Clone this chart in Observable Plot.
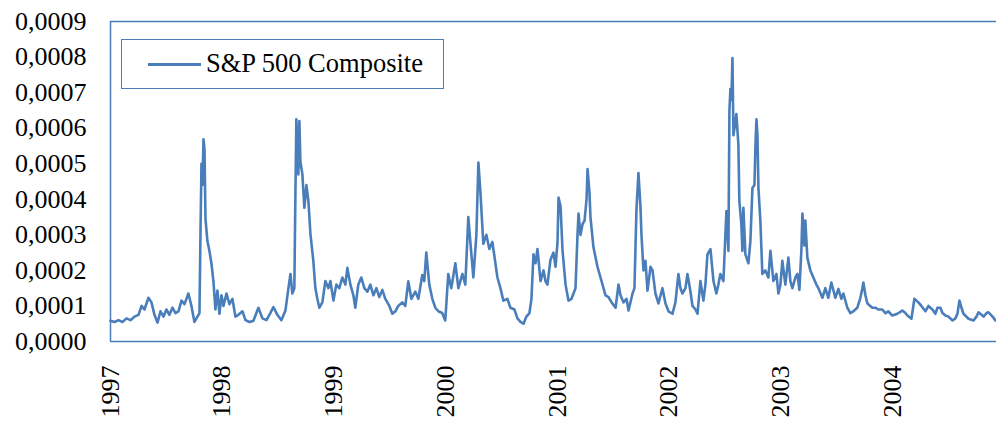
<!DOCTYPE html>
<html>
<head>
<meta charset="utf-8">
<script src="https://cdn.jsdelivr.net/npm/d3@7"></script>
<script src="https://cdn.jsdelivr.net/npm/@observablehq/plot@0.6"></script>
<style>
  html, body { margin: 0; padding: 0; background: #fff; }
  #wrap { position: relative; width: 996px; height: 423px; overflow: hidden; font-family: 'Liberation Serif', 'Times New Roman', serif; }
  #legend { position: absolute; left: 121px; top: 39px; width: 323px; height: 50px; box-sizing: border-box; border: 1.5px solid #4a7ebb; background: #fff; }
  #legend .swatch { position: absolute; left: 26px; top: 23px; width: 53px; height: 2.5px; background: #4a7ebb; }
  #legend .label { position: absolute; left: 84px; top: 0; height: 47px; line-height: 47px; font-size: 26.5px; color: #000; white-space: nowrap; }
</style>
</head>
<body>
<div id="wrap"></div>
<script>
// ---- data ----
const seriesName = "S&P 500 Composite";
const unit = 1e-4; // values below are in units of 0.0001
const yearTicks = [1997, 1998, 1999, 2000, 2001, 2002, 2003, 2004];
const yTicks = [0, 0.0001, 0.0002, 0.0003, 0.0004, 0.0005, 0.0006, 0.0007, 0.0008, 0.0009];

const t1997 = [1997.000,1997.036,1997.072,1997.107,1997.143,1997.179,1997.215,1997.251,1997.278,1997.304,1997.340,1997.367,1997.394,1997.421,1997.448,1997.475,1997.501,1997.528,1997.555,1997.582,1997.609,1997.636,1997.663,1997.698,1997.725,1997.752,1997.779,1997.797,1997.806,1997.815,1997.824,1997.833,1997.842,1997.851,1997.868,1997.886,1997.904,1997.922,1997.940,1997.958,1997.976,1997.994];
const v1997 = [0.58,0.55,0.60,0.55,0.65,0.60,0.70,0.75,1.00,0.90,1.23,1.10,0.75,0.53,0.85,0.70,0.90,0.75,0.95,0.80,0.85,1.15,1.05,1.35,1.00,0.55,0.70,0.80,3.00,5.00,4.40,5.69,5.40,3.45,2.83,2.55,2.20,1.70,0.90,1.43,0.78,1.30];

const t1998 = [1998.012,1998.039,1998.065,1998.092,1998.119,1998.146,1998.182,1998.209,1998.244,1998.280,1998.325,1998.361,1998.397,1998.432,1998.459,1998.495,1998.531,1998.567,1998.594,1998.612,1998.629,1998.647,1998.656,1998.665,1998.683,1998.692,1998.701,1998.719,1998.737,1998.755,1998.773,1998.791,1998.817,1998.835,1998.853,1998.871,1998.898,1998.925,1998.952,1998.970,1998.997];
const v1998 = [1.00,1.35,1.05,1.20,0.70,0.75,0.85,0.60,0.55,0.58,0.95,0.65,0.60,0.80,0.97,0.75,0.60,0.87,1.50,1.90,1.35,1.50,4.00,6.25,4.70,6.20,5.07,4.70,3.76,4.40,3.95,3.03,2.27,1.51,1.20,0.95,1.10,1.70,1.50,1.70,1.15];

const t1999 = [1999.023,1999.050,1999.077,1999.104,1999.122,1999.149,1999.176,1999.193,1999.220,1999.247,1999.274,1999.301,1999.328,1999.355,1999.382,1999.408,1999.435,1999.462,1999.498,1999.525,1999.552,1999.578,1999.614,1999.641,1999.668,1999.695,1999.731,1999.758,1999.793,1999.811,1999.829,1999.856,1999.883,1999.910,1999.937,1999.972,1999.999];
const v1999 = [1.60,1.50,1.80,1.60,2.07,1.60,1.30,0.95,1.60,1.80,1.50,1.40,1.60,1.30,1.50,1.25,1.45,1.20,1.00,0.78,0.85,1.00,1.10,1.00,1.69,1.20,1.40,1.20,1.87,1.70,2.50,1.60,1.20,0.95,0.85,0.80,0.59];

const t2000 = [2000.026,2000.053,2000.089,2000.116,2000.152,2000.178,2000.205,2000.223,2000.250,2000.277,2000.295,2000.313,2000.339,2000.366,2000.393,2000.420,2000.447,2000.465,2000.492,2000.518,2000.554,2000.581,2000.617,2000.644,2000.671,2000.698,2000.724,2000.751,2000.769,2000.787,2000.805,2000.823,2000.850,2000.877,2000.894,2000.912,2000.939,2000.966,2000.984];
const v2000 = [1.90,1.50,2.20,1.50,1.90,1.60,3.50,2.80,1.80,3.00,5.03,4.20,2.75,3.00,2.60,2.80,2.20,1.80,1.50,1.15,1.20,0.95,0.90,0.65,0.55,0.50,0.70,0.80,1.20,2.45,2.20,2.60,1.70,2.00,1.70,1.60,2.30,2.50,2.10];

const t2001 = [2001.002,2001.011,2001.029,2001.047,2001.074,2001.100,2001.127,2001.163,2001.181,2001.190,2001.208,2001.226,2001.244,2001.262,2001.271,2001.288,2001.297,2001.324,2001.360,2001.387,2001.405,2001.432,2001.459,2001.486,2001.522,2001.548,2001.566,2001.593,2001.620,2001.638,2001.674,2001.691,2001.709,2001.727,2001.745,2001.754,2001.772,2001.790,2001.808,2001.835,2001.853,2001.879,2001.906,2001.942,2001.969,2001.996];
const v2001 = [2.80,4.05,3.80,2.55,1.60,1.15,1.20,1.50,3.00,3.60,3.00,3.30,3.40,4.00,4.85,4.20,3.50,2.65,2.10,1.80,1.60,1.30,1.25,1.10,0.95,1.60,1.30,1.10,1.20,0.87,1.35,1.50,3.70,4.74,3.80,3.00,2.00,2.27,1.43,2.10,2.00,1.35,1.07,1.50,1.07,0.85];

const t2002 = [2002.032,2002.058,2002.085,2002.103,2002.121,2002.148,2002.166,2002.193,2002.211,2002.238,2002.256,2002.282,2002.309,2002.327,2002.345,2002.372,2002.399,2002.425,2002.443,2002.461,2002.488,2002.515,2002.533,2002.542,2002.551,2002.560,2002.569,2002.578,2002.596,2002.604,2002.622,2002.631,2002.649,2002.658,2002.667,2002.685,2002.712,2002.730,2002.748,2002.766,2002.775,2002.784,2002.793,2002.802,2002.819,2002.837,2002.864,2002.891,2002.909,2002.936,2002.963,2002.981,2002.999];
const v2002 = [0.78,1.10,1.90,1.50,1.35,1.50,1.90,1.40,1.00,0.90,0.78,1.70,1.15,1.60,2.45,2.60,1.70,1.35,1.60,1.90,1.70,3.67,2.55,6.50,7.10,6.80,7.97,5.80,6.20,6.40,5.55,3.95,3.30,2.55,3.76,2.45,2.20,2.83,4.32,4.40,5.50,6.25,5.80,4.30,3.40,1.90,2.00,1.80,2.55,1.70,1.90,1.35,1.60];

const t2003 = [2003.016,2003.043,2003.070,2003.088,2003.106,2003.133,2003.151,2003.169,2003.187,2003.196,2003.213,2003.222,2003.240,2003.267,2003.294,2003.321,2003.339,2003.375,2003.401,2003.428,2003.455,2003.491,2003.518,2003.545,2003.563,2003.598,2003.625,2003.652,2003.688,2003.715,2003.733,2003.742,2003.760,2003.778,2003.804,2003.822,2003.849,2003.876,2003.912,2003.939,2003.966];
const v2003 = [2.27,1.60,2.36,1.70,1.50,1.80,1.90,1.45,2.60,3.60,2.70,3.40,2.36,2.00,1.80,1.60,1.50,1.23,1.50,1.23,1.66,1.23,1.48,1.20,1.35,0.95,0.80,0.85,0.95,1.23,1.50,1.66,1.30,1.07,1.00,0.95,0.95,0.90,0.90,0.80,0.85];

const t2004 = [2004.001,2004.046,2004.091,2004.118,2004.136,2004.172,2004.189,2004.198,2004.234,2004.261,2004.297,2004.324,2004.359,2004.386,2004.404,2004.431,2004.449,2004.476,2004.503,2004.539,2004.565,2004.583,2004.601,2004.619,2004.637,2004.682,2004.727,2004.753,2004.771,2004.798,2004.816,2004.843,2004.861,2004.897,2004.923];
const v2004 = [0.73,0.78,0.87,0.80,0.73,0.64,1.00,1.20,1.10,1.00,0.85,1.00,0.90,0.78,0.95,0.95,0.80,0.73,0.70,0.59,0.65,0.78,1.15,0.95,0.78,0.64,0.59,0.70,0.82,0.75,0.70,0.80,0.82,0.70,0.59];

// ---- build table ----
function toDate(t) {
  const y = Math.floor(t);
  const a = Date.UTC(y, 0, 1), b = Date.UTC(y + 1, 0, 1);
  return new Date(a + (t - y) * (b - a));
}
const times = [].concat(t1997, t1998, t1999, t2000, t2001, t2002, t2003, t2004);
const vals = [].concat(v1997, v1998, v1999, v2000, v2001, v2002, v2003, v2004);
const data = times.map((t, i) => ({date: toDate(t), value: vals[i] * unit}));

const blue = "#4a7ebb";
const xStart = new Date(Date.UTC(1997, 0, 1));
const xEnd = toDate(2004.932);
const fmtY = v => d3.format(".4f")(v).replace(".", ",");

const chart = Plot.plot({
  width: 996,
  height: 423,
  marginLeft: 110,
  marginRight: 0,
  marginTop: 21,
  marginBottom: 82,
  style: {fontFamily: "'Liberation Serif', 'Times New Roman', serif", fontSize: "26px", color: "#000", background: "#fff"},
  x: {type: "utc", domain: [xStart, xEnd]},
  y: {domain: [0, 0.0009]},
  marks: [
    Plot.axisY({ticks: yTicks, tickFormat: fmtY, tickSize: 0, tickPadding: 24, label: null, fontSize: 26}),
    Plot.axisX({ticks: yearTicks.map(y => new Date(Date.UTC(y, 0, 1))), tickFormat: d => String(d.getUTCFullYear()), tickRotate: -90, tickSize: 0, tickPadding: 24, label: null, fontSize: 26}),
    Plot.lineY(data, {x: "date", y: "value", stroke: blue, strokeWidth: 2.6, strokeLinejoin: "round"}),
    Plot.ruleY([0, 0.0009], {stroke: blue, strokeWidth: 1.5}),
    Plot.ruleX([xStart], {stroke: blue, strokeWidth: 1.5})
  ]
});

const wrap = document.getElementById("wrap");
wrap.appendChild(chart);
const legend = document.createElement("div");
legend.id = "legend";
legend.innerHTML = '<div class="swatch"></div><div class="label"></div>';
legend.querySelector(".label").textContent = seriesName;
wrap.appendChild(legend);
</script>
</body>
</html>
